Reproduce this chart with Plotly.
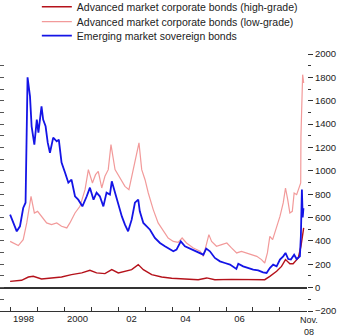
import plotly.graph_objects as go

# ---- data (basis points) ----
hg_dates = ["1998-01-01","1998-06-05","1998-09-05","1998-11-10","1999-03-02","1999-07-15","1999-11-28",
            "2000-04-11","2000-08-28","2000-12-16","2001-03-16","2001-07-07","2001-10-08","2002-01-04",
            "2002-04-04","2002-07-04","2002-10-01","2002-12-09","2003-04-01","2003-08-14","2003-12-28",
            "2004-06-24","2004-12-20","2005-04-15","2005-08-03","2006-03-16","2006-10-30","2007-06-09",
            "2007-08-17","2007-11-17","2008-01-22","2008-03-16","2008-05-14","2008-06-27","2008-09-05",
            "2008-10-11","2008-11-17"]
hg_values = [54,63,91,97,74,83,91,111,126,148,126,120,154,126,140,154,197,154,111,91,80,
             74,68,83,68,71,68,68,97,140,182,240,205,205,254,354,511]

lg_dates = ["1998-01-01","1998-04-22","1998-06-27","1998-08-14","1998-10-11","1998-11-25","1999-01-08",
            "1999-03-02","1999-05-10","1999-07-15","1999-09-24","1999-11-28","2000-02-07","2000-03-20",
            "2000-05-28","2000-08-03","2000-10-11","2000-11-25","2001-01-19","2001-03-02","2001-04-08",
            "2001-05-25","2001-07-07","2001-08-21","2001-09-27","2001-11-21","2002-01-26","2002-04-04",
            "2002-05-28","2002-07-26","2002-09-09","2002-10-11","2002-11-17","2003-01-01","2003-02-14",
            "2003-04-22","2003-06-27","2003-09-06","2003-11-10","2004-01-19","2004-03-24","2004-05-17",
            "2004-07-15","2004-10-15","2005-01-15","2005-02-28","2005-04-15","2005-05-14","2005-06-20",
            "2005-08-25","2005-11-03","2006-01-12","2006-03-16","2006-05-25","2006-07-29","2006-10-08",
            "2006-12-13","2007-02-21","2007-04-26","2007-06-09","2007-07-15","2007-08-17","2007-09-24",
            "2007-10-22","2007-11-28","2008-01-01","2008-02-14","2008-03-16","2008-04-15","2008-05-14",
            "2008-06-16","2008-07-11","2008-08-14","2008-09-16","2008-10-08","2008-10-11","2008-10-19",
            "2008-11-03","2008-11-17"]
lg_values = [396,360,411,554,782,639,653,610,554,539,554,525,511,554,639,696,839,1010,896,967,996,
             853,953,1010,1224,1010,939,867,839,1010,1124,1239,1010,924,810,668,554,482,425,396,388,425,
             382,340,311,268,396,454,396,354,368,382,340,297,311,297,282,268,240,211,297,439,411,
             468,554,610,725,853,753,639,653,810,796,853,896,1295,1609,1823,1752]

em_dates = ["1998-01-01","1998-02-14","1998-04-01","1998-05-14","1998-06-27","1998-07-29","1998-08-25",
            "1998-09-27","1998-10-19","1998-11-25","1998-12-28","1999-01-19","1999-03-02","1999-03-24",
            "1999-04-26","1999-05-25","1999-06-24","1999-08-07","1999-09-24","1999-10-22","1999-11-28",
            "2000-01-15","2000-02-28","2000-04-11","2000-05-28","2000-07-11","2000-09-05","2000-11-03",
            "2000-12-16","2001-02-03","2001-03-16","2001-04-29","2001-06-16","2001-07-29","2001-09-13",
            "2001-10-08","2001-11-21","2002-01-04","2002-02-21","2002-04-04","2002-05-17","2002-07-04",
            "2002-08-17","2002-10-01","2002-10-22","2002-12-09","2003-01-22","2003-03-09","2003-05-14",
            "2003-07-22","2003-09-27","2003-12-06","2004-01-19","2004-03-02","2004-04-29","2004-06-24",
            "2004-09-24","2004-12-20","2005-02-28","2005-04-08","2005-05-28","2005-08-03","2005-10-11",
            "2005-12-17","2006-02-24","2006-05-21","2006-06-16","2006-08-21","2006-10-30","2007-01-04",
            "2007-03-13","2007-05-17","2007-07-04","2007-08-17","2007-10-01","2007-11-17","2008-01-01",
            "2008-02-14","2008-03-16","2008-04-22","2008-05-28","2008-07-11","2008-08-14","2008-09-27",
            "2008-10-10","2008-10-24","2008-11-04","2008-11-14"]
em_values = [625,554,482,525,682,727,1800,1637,1381,1224,1438,1327,1552,1438,1381,1241,1155,1284,
             1252,1267,1070,984,898,924,782,753,696,782,856,753,813,782,696,813,796,910,813,696,610,
             539,482,582,727,753,653,554,525,496,425,382,354,325,311,325,396,354,325,302,282,334,311,
             254,225,211,197,160,205,182,168,154,148,131,126,168,197,182,240,268,297,245,240,282,245,
             268,440,840,600,680]

series_names = ["Advanced market corporate bonds (high-grade)",
                "Advanced market corporate bonds (low-grade)",
                "Emerging market sovereign bonds"]

year_ticks = [f"{y}-01-01" for y in range(1998, 2010)]
label_pos = ["1998-07-02", "2000-07-02", "2002-07-02", "2004-07-02", "2006-07-02"]
label_text = ["1998", "2000", "02", "04", "06"]

FONT = "Liberation Sans, Arial, sans-serif"
TXT = "#222222"
XRANGE = ["1997-08-17", "2009-01-01"]

fig = go.Figure()
fig.add_trace(go.Scatter(x=hg_dates, y=hg_values, mode="lines", name=series_names[0],
                         line=dict(color="#B5121B", width=1.4), legend="legend"))
fig.add_trace(go.Scatter(x=lg_dates, y=lg_values, mode="lines", name=series_names[1],
                         line=dict(color="#F29A9A", width=1.2), legend="legend2"))
fig.add_trace(go.Scatter(x=em_dates, y=em_values, mode="lines", name=series_names[2],
                         line=dict(color="#1414E6", width=1.8), legend="legend3"))
# invisible helper trace for label axis
fig.add_trace(go.Scatter(x=[XRANGE[0]], y=[None], xaxis="x2", yaxis="y2", showlegend=False,
                         hoverinfo="skip"))

H = 257
def leg_y(px):
    return 1 + (54 - px) / H

legend_common = dict(x=0.12, xanchor="left", yanchor="middle", bgcolor="rgba(0,0,0,0)",
                     font=dict(family=FONT, size=10.5, color=TXT), itemwidth=30)

fig.update_layout(
    width=343, height=336,
    margin=dict(l=0, r=36, t=54, b=25, autoexpand=False),
    paper_bgcolor="white", plot_bgcolor="white",
    font=dict(family=FONT, size=9.5, color=TXT),
    showlegend=True,
    legend=dict(y=leg_y(6.7), **legend_common),
    legend2=dict(y=leg_y(21.7), **legend_common),
    legend3=dict(y=leg_y(35.7), **legend_common),
    xaxis=dict(type="date", range=XRANGE, showgrid=False, zeroline=False,
               showline=True, linecolor="#333333", linewidth=1,
               tickmode="array", tickvals=year_ticks, ticks="inside", ticklen=4,
               tickcolor="#333333", showticklabels=False),
    xaxis2=dict(type="date", range=XRANGE, overlaying="x", anchor="y", side="bottom",
                showgrid=False, zeroline=False, showline=False,
                tickmode="array", tickvals=label_pos, ticktext=label_text, ticks="",
                tickangle=0, tickfont=dict(family=FONT, size=9.5, color=TXT)),
    yaxis=dict(side="right", range=[-200, 2000], showgrid=False,
               zeroline=True, zerolinecolor="#333333", zerolinewidth=1.5,
               showline=False, tickmode="linear", tick0=0, dtick=200,
               ticks="outside", ticklen=5, tickcolor="#333333",
               minor=dict(dtick=100, tick0=0, ticks="outside", ticklen=3, tickcolor="#333333"),
               tickfont=dict(family=FONT, size=9.5, color=TXT)),
    yaxis2=dict(overlaying="y", side="left", range=[-200, 2000], showgrid=False,
                zeroline=False, showline=False, tickmode="linear", tick0=0, dtick=100,
                ticks="inside", ticklen=4, tickcolor="#555555", showticklabels=False),
    annotations=[dict(xref="paper", yref="paper", x=309 / 307, y=-0.01, xanchor="center",
                      yanchor="top", text="Nov.<br>08", showarrow=False, borderpad=0,
                      font=dict(family=FONT, size=9, color=TXT))],
)

fig.write_html("out.html")
